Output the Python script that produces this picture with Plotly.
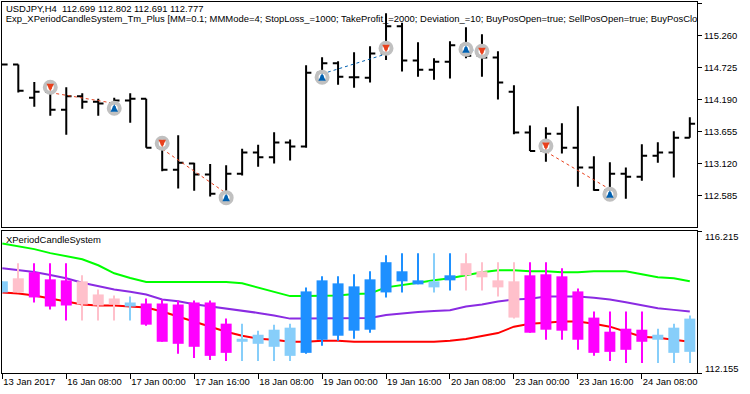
import plotly.graph_objects as go

# ---------- upper pane: price bars ----------
price_open = [114.781,114.781,114.229,114.329,114.028,114.251,114.162,114.129,114.179,114.212,113.393,113.025,113.126,112.942,112.624,112.958,113.310,113.231,113.477,113.410,114.647,114.803,114.569,114.563,114.965,115.422,114.848,114.697,114.831,115.104,114.931,114.898,114.329,113.644,113.337,113.627,113.393,113.059,112.685,112.958,112.908,113.259,113.310,113.560]
price_high = [114.781,114.781,114.491,114.441,114.402,114.302,114.212,114.229,114.302,114.212,113.466,113.599,113.142,113.120,113.098,113.376,113.443,113.649,113.527,114.770,114.903,114.837,114.987,115.087,115.639,115.483,115.154,114.887,115.171,115.405,115.288,115.004,114.435,113.761,113.733,113.800,114.084,113.248,113.148,113.059,113.449,113.482,113.666,113.900]
price_low = [114.781,114.313,114.078,113.928,113.610,114.045,113.928,114.051,113.811,113.393,112.997,112.708,112.674,112.574,112.574,112.925,113.075,113.126,113.176,113.393,114.524,114.446,114.396,114.480,114.859,114.664,114.580,114.530,114.547,114.887,114.580,114.196,113.616,113.337,113.159,113.293,112.741,112.674,112.685,112.540,112.841,113.142,112.892,113.560]
price_close = [114.781,114.346,114.329,114.028,114.251,114.162,114.129,114.179,114.212,113.393,113.025,113.142,112.942,112.624,112.958,113.310,113.231,113.477,113.410,114.647,114.803,114.580,114.569,114.965,115.422,114.848,114.697,114.831,115.104,114.931,114.898,114.480,113.644,113.337,113.627,113.393,113.059,112.685,112.958,112.908,113.259,113.310,113.560,113.794]

sell_bars = [3, 10, 24, 30, 34]
sell_prices = [114.402, 113.466, 115.054, 115.004, 113.421]
buy_bars = [7, 14, 20, 29, 38]
buy_prices = [114.051, 112.557, 114.569, 115.037, 112.613]
red_trade_bars = [3, 7, None, 10, 14, None, 34, 38]
red_trade_prices = [114.313, 114.134, None, 113.371, 112.630, None, 113.326, 112.696]
blue_trade_bars = [20, 24, None, 29, 30]
blue_trade_prices = [114.625, 114.959, None, 115.110, 114.926]

price_ticks = [115.795, 115.260, 114.725, 114.190, 113.655, 113.120, 112.585]
price_tick_labels = ["115.795", "115.260", "114.725", "114.190", "113.655", "113.120", "112.585"]

# ---------- lower pane: indicator ----------
wick_high = [114.776,115.294,115.294,115.294,115.294,114.948,114.545,114.372,114.344,114.286,114.257,114.228,114.228,114.228,113.710,113.566,113.365,113.537,113.566,114.603,114.919,114.919,114.977,115.063,115.524,115.582,115.582,115.582,115.582,115.582,115.323,115.323,115.323,115.323,115.323,115.150,114.574,113.912,113.912,113.912,113.912,113.422,113.566,113.797]
wick_low = [114.459,114.459,114.171,113.969,113.653,113.653,113.653,113.653,113.653,113.509,113.048,112.702,112.587,112.530,112.501,112.501,112.501,112.501,112.501,112.702,112.933,113.077,113.134,113.307,114.315,114.459,114.689,114.459,114.516,114.516,114.516,114.344,113.710,113.307,113.106,113.106,112.818,112.645,112.501,112.443,112.443,112.443,112.443,112.443]
body_top = [114.776,114.862,115.035,114.833,114.804,114.776,114.401,114.286,114.171,114.142,114.142,114.113,114.171,114.171,113.566,113.134,113.249,113.393,113.451,114.488,114.804,114.718,114.632,114.833,115.323,115.063,114.804,114.776,114.948,115.294,115.063,114.804,114.776,114.948,114.977,114.919,114.488,113.739,113.336,113.422,113.393,113.249,113.451,113.710]
body_bottom = [114.459,114.459,114.315,114.056,114.085,114.113,114.085,114.113,114.056,113.537,113.048,112.990,112.904,112.645,112.731,113.048,112.990,112.904,112.645,112.731,113.106,113.221,113.365,113.393,114.459,114.776,114.689,114.603,114.804,114.948,114.891,114.603,113.739,113.307,113.393,113.365,113.106,112.731,112.760,112.818,113.048,113.106,112.731,112.760]
# candle state: L light blue, D strong blue, P pink, M magenta
candle_state = list("LPMMMPPPLMMMMMMLLLLDDDDDDDDLDPPPPMMMMMMMMLLL")

upper_band = [115.860,115.783,115.697,115.582,115.505,115.409,115.236,115.006,114.871,114.756,114.756,114.756,114.756,114.756,114.756,114.718,114.603,114.488,114.353,114.353,114.353,114.372,114.411,114.430,114.603,114.660,114.737,114.804,114.862,114.948,115.035,115.092,115.092,115.063,115.063,115.035,115.035,115.063,115.063,115.063,114.977,114.891,114.862,114.776]
middle_band = [115.150,115.102,115.044,114.958,114.862,114.737,114.641,114.545,114.478,114.401,114.257,114.209,114.123,114.065,114.008,113.931,113.873,113.797,113.710,113.710,113.710,113.710,113.710,113.729,113.816,113.864,113.902,113.931,113.950,114.056,114.113,114.200,114.257,114.276,114.344,114.344,114.344,114.305,114.257,114.180,114.085,114.008,113.960,113.912]
lower_band = [114.459,114.430,114.372,114.286,114.200,114.113,114.085,114.085,114.056,114.027,113.912,113.768,113.624,113.480,113.336,113.221,113.134,113.106,113.048,113.048,113.077,113.077,113.048,113.048,113.048,113.048,113.048,113.048,113.077,113.125,113.211,113.297,113.480,113.566,113.595,113.624,113.624,113.566,113.480,113.336,113.192,113.163,113.106,113.048]

time_tick_bars = [0, 4, 8, 12, 16, 20, 24, 28, 32, 36, 40]
time_tick_labels = ["13 Jan 2017", "16 Jan 08:00", "17 Jan 00:00", "17 Jan 16:00", "18 Jan 08:00",
                    "19 Jan 00:00", "19 Jan 16:00", "20 Jan 08:00", "23 Jan 00:00", "23 Jan 16:00", "24 Jan 08:00"]
indicator_ticks = [116.215, 112.155]
indicator_tick_labels = ["116.215", "112.155"]

symbol_line = "USDJPY,H4  112.699 112.802 112.691 112.777"
expert_line = ("Exp_XPeriodCandleSystem_Tm_Plus [MM=0.1; MMMode=4; StopLoss_=1000; TakeProfit_=2000; "
               "Deviation_=10; BuyPosOpen=true; SellPosOpen=true; BuyPosClose")
indicator_name = "XPeriodCandleSystem"

# ---------- styling ----------
FONT = "Liberation Sans"
FS = 9.45
state_colors = {"L": "#87CEFA", "D": "#1E90FF", "P": "#FFC0CB", "M": "#FF00FF"}
colors = [state_colors[s] for s in candle_state]
bars = list(range(len(price_open)))
X_RANGE = [-0.02, 43.45]

fig = go.Figure()
fig.add_trace(go.Ohlc(
    x=bars, open=price_open, high=price_high, low=price_low, close=price_close,
    increasing=dict(line=dict(color="black", width=2)),
    decreasing=dict(line=dict(color="black", width=2)),
    tickwidth=0.33, xaxis="x", yaxis="y", hoverinfo="skip"))
fig.add_trace(go.Scatter(x=red_trade_bars, y=red_trade_prices, mode="lines",
                         line=dict(color="#E8401C", width=1, dash="3px,3px"), xaxis="x", yaxis="y"))
fig.add_trace(go.Scatter(x=blue_trade_bars, y=blue_trade_prices, mode="lines",
                         line=dict(color="#0060B0", width=1, dash="3px,3px"), xaxis="x", yaxis="y"))
fig.add_trace(go.Scatter(x=sell_bars + buy_bars, y=sell_prices + buy_prices, mode="markers",
                         marker=dict(symbol="circle", size=11, color="white",
                                     line=dict(color="#C0C0C0", width=4)),
                         xaxis="x", yaxis="y"))
# the expert line runs past the pane and is clipped by it
fig.add_trace(go.Scatter(x=[0.22], y=[115.527], mode="text", text=[expert_line], textposition="middle right",
                         textfont=dict(family=FONT, size=FS, color="black"), cliponaxis=True,
                         xaxis="x", yaxis="y"))

for series, col in [(lower_band, "#FF0000"), (middle_band, "#8A2BE2"), (upper_band, "#00FF00")]:
    fig.add_trace(go.Scatter(x=bars, y=series, mode="lines",
                             line=dict(color=col, width=2), xaxis="x2", yaxis="y2"))

fig.add_trace(go.Bar(x=bars, y=[h - l for h, l in zip(wick_high, wick_low)], base=wick_low,
                     width=1 / 16, marker=dict(color=colors, line=dict(width=0)),
                     xaxis="x3", yaxis="y3"))
fig.add_trace(go.Bar(x=bars, y=[t - b for t, b in zip(body_top, body_bottom)], base=body_bottom,
                     width=11 / 16, marker=dict(color=colors, line=dict(width=0)),
                     xaxis="x3", yaxis="y3"))

axis_line = dict(showline=True, linecolor="black", linewidth=1, mirror=True, showgrid=False, zeroline=False)
H = 394
def paper_y(py):
    return 1 - (py - 2) / (H - 2 - 21)
def paper_x(px):
    return (px - 2) / (750 - 2 - 53)
annotations = []
for txt, px, py in [(symbol_line, 4.2, 9), (indicator_name, 3.5, 239)]:
    annotations.append(dict(text=txt, x=paper_x(px), y=paper_y(py), xref="paper", yref="paper",
                            xanchor="left", yanchor="middle", showarrow=False,
                            font=dict(family=FONT, size=FS, color="black")))
for val, txt, shift in zip(indicator_ticks, indicator_tick_labels, [-5, 5]):
    annotations.append(dict(text=txt, x=1, xshift=6, y=val, yshift=shift, xref="paper", yref="y2",
                            xanchor="left", yanchor="middle", showarrow=False,
                            font=dict(family=FONT, size=FS, color="black")))
# trade arrows: head and stem, centred on the trade marker
for bx, by, direction, col in [(sell_bars, sell_prices, -1, "#E8401C"), (buy_bars, buy_prices, 1, "#0060B0")]:
    for b, p in zip(bx, by):
        annotations.append(dict(x=b, y=p, xref="x", yref="y", text="", showarrow=True,
                                ax=0, ay=direction * 8, yshift=direction * 4,
                                arrowhead=2, arrowsize=0.5, arrowwidth=3, arrowcolor=col,
                                standoff=0, startstandoff=0))

fig.update_layout(
    width=750, height=394, margin=dict(l=2, r=53, t=2, b=21, pad=0, autoexpand=False),
    paper_bgcolor="white", plot_bgcolor="white", showlegend=False, barmode="overlay",
    font=dict(family=FONT, size=FS, color="black"),
    xaxis=dict(domain=[0, 1], range=X_RANGE, showticklabels=False, ticks="", rangeslider=dict(visible=False),
               anchor="y", **axis_line),
    yaxis=dict(domain=[1 - 225 / 371, 1], range=[112.066, 115.828], side="right", anchor="x",
               tickvals=price_ticks, ticktext=price_tick_labels, ticks="outside", ticklen=4, tickcolor="black",
               **axis_line),
    xaxis2=dict(domain=[0, 1], range=X_RANGE, anchor="y2", tickvals=time_tick_bars, ticktext=time_tick_labels,
                ticks="outside", ticklen=5, tickcolor="black", ticklabelposition="outside right",
                tickangle=0, **axis_line),
    yaxis2=dict(domain=[0, 1 - 229 / 371], range=[112.155, 116.215], side="right", anchor="x2",
                tickvals=indicator_ticks, ticktext=["", ""], ticks="outside", ticklen=4, tickcolor="black",
                **axis_line),
    xaxis3=dict(range=X_RANGE, overlaying="x2", visible=False, anchor="y3"),
    yaxis3=dict(domain=[0, 1 - 229 / 371], range=[112.155, 116.215], overlaying="y2", visible=False, anchor="x3", side="right"),
    annotations=annotations,
)
fig.write_html("out.html", config={"displayModeBar": False},
               post_script="document.body.style.margin='0';document.documentElement.style.overflow='hidden';")
